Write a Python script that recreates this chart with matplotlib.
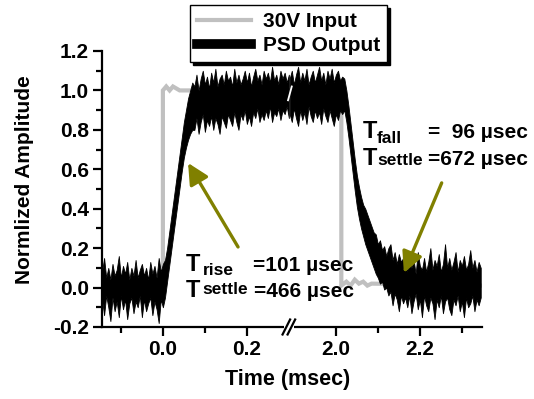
import numpy as np
import matplotlib
matplotlib.use("Agg")
import matplotlib.pyplot as plt
from matplotlib.lines import Line2D

plt.rcParams['font.family'] = ['Liberation Sans', 'DejaVu Sans']
plt.rcParams['font.weight'] = 'bold'

# ---------------- data ----------------
# left segment of the broken time axis (msec)
t_left = np.round(-0.145 + 0.005 * np.arange(90), 3)
out_left_upper = [
    0.08, 0.15, 0.05, 0.10, 0.04, 0.12, 0.06, 0.09, 0.16, 0.05, 0.11, 0.07, 0.13, 0.04, 0.10,
    0.06, 0.14, 0.05, 0.09, 0.12, 0.06, 0.10, 0.04, 0.13, 0.07, 0.11, 0.05, 0.15, 0.08,
    0.12, 0.14, 0.20, 0.28, 0.36, 0.44, 0.52, 0.60, 0.68, 0.76, 0.84, 0.90, 0.96, 1.00, 1.04,
    1.02, 1.08, 1.00, 1.06, 1.10, 1.03, 1.07, 1.01, 1.09, 1.04, 1.11, 1.02, 1.06, 1.08, 1.03,
    1.10, 1.05, 1.07, 1.02, 1.11, 1.04, 1.08, 1.03, 1.06, 1.10, 1.04, 1.09, 1.02, 1.07, 1.11,
    1.05, 1.08, 1.03, 1.10, 1.06, 1.09, 1.04, 1.12, 1.05, 1.08, 1.03, 1.10, 1.06, 1.09, 1.04,
    1.08]
out_left_lower = [
    -0.06, -0.14, -0.04, -0.10, -0.17, -0.05, -0.12, -0.07, -0.15, -0.04, -0.11, -0.06, -0.16,
    -0.08, -0.05, -0.13, -0.07, -0.10, -0.04, -0.15, -0.06, -0.12, -0.08, -0.05, -0.14, -0.07,
    -0.11, -0.18, -0.06,
    -0.10, -0.05, 0.03, 0.11, 0.19, 0.27, 0.35, 0.43, 0.51, 0.59, 0.66, 0.71, 0.75, 0.78, 0.80,
    0.80, 0.86, 0.78, 0.84, 0.88, 0.79, 0.85, 0.82, 0.87, 0.80, 0.86, 0.83, 0.78, 0.87, 0.84,
    0.81, 0.88, 0.85, 0.82, 0.89, 0.84, 0.80, 0.88, 0.85, 0.90, 0.83, 0.87, 0.82, 0.89, 0.86,
    0.91, 0.84, 0.88, 0.85, 0.90, 0.86, 0.92, 0.84, 0.89, 0.87, 0.91, 0.85, 0.90, 0.88, 0.92,
    0.86]

# right segment of the broken time axis (msec)
t_right = np.round(1.89 + 0.005 * np.arange(92), 3)
out_right_upper = [
    1.06, 1.10, 1.03, 1.08, 1.12, 1.04, 1.09, 1.05, 1.11, 1.03, 1.07, 1.10, 1.04, 1.08, 1.12,
    1.05, 1.09, 1.03, 1.10, 1.06, 1.11, 1.04, 1.08, 1.10, 1.05, 1.07,
    1.06, 1.00, 0.92, 0.83, 0.74, 0.65, 0.57, 0.51, 0.46, 0.42, 0.40, 0.37, 0.34, 0.31, 0.28,
    0.27, 0.22, 0.24, 0.19, 0.21, 0.16, 0.20, 0.22, 0.14, 0.18, 0.12, 0.17, 0.13, 0.15,
    0.12, 0.08, 0.16, 0.10, 0.14, 0.07, 0.18, 0.11, 0.09, 0.15, 0.08, 0.13, 0.20, 0.09, 0.14,
    0.11, 0.17, 0.08, 0.12, 0.22, 0.10, 0.15, 0.09, 0.13, 0.18, 0.08, 0.14, 0.11, 0.16, 0.09,
    0.12, 0.19, 0.10, 0.14, 0.08, 0.13, 0.10]
out_right_lower = [
    0.88, 0.84, 0.91, 0.86, 0.82, 0.90, 0.85, 0.89, 0.83, 0.92, 0.87, 0.84, 0.90, 0.86, 0.89,
    0.83, 0.91, 0.87, 0.84, 0.90, 0.86, 0.82, 0.88, 0.85, 0.90, 0.88,
    0.90, 0.84, 0.76, 0.67, 0.58, 0.49, 0.41, 0.35, 0.30, 0.26, 0.22, 0.19, 0.16, 0.13, 0.10,
    0.07, 0.05, 0.02, 0.03, -0.01, 0.00, -0.04, -0.02, -0.09, -0.03, -0.06, -0.12, -0.04, -0.08,
    -0.05, -0.10, -0.04, -0.13, -0.07, -0.03, -0.11, -0.06, -0.15, -0.04, -0.09, -0.12, -0.05,
    -0.08, -0.16, -0.06, -0.10, -0.04, -0.13, -0.07, -0.05, -0.11, -0.14, -0.06, -0.09, -0.04,
    -0.12, -0.07, -0.15, -0.05, -0.10, -0.08, -0.04, -0.12, -0.06, -0.09, -0.05]

# 30 V input step
in_left_t = [-0.145, 0.0, 0.0, 0.008, 0.016, 0.024, 0.032, 0.040, 0.3]
in_left_v = [0.0, 0.0, 1.00, 1.02, 1.00, 1.02, 1.01, 1.00, 1.00]
in_right_t = [1.89, 2.013, 2.013, 2.025, 2.035, 2.045, 2.055, 2.065, 2.075, 2.085, 2.345]
in_right_v = [1.00, 1.00, 0.01, 0.03, 0.01, 0.04, 0.02, 0.03, 0.01, 0.02, 0.01]

x_major_ticks = [0.0, 0.2, 2.0, 2.2]
x_minor_ticks = [-0.1, 0.1, 2.1, 2.3]
x_tick_labels = ['0.0', '0.2', '2.0', '2.2']

# ---------------- broken axis mapping ----------------
BREAK_LEFT = 0.3
BREAK_RIGHT = 1.888
def fx(t):
    t = np.asarray(t, dtype=float)
    return np.where(t > 1.0, t - (BREAK_RIGHT - BREAK_LEFT), t)

W, H = 534, 399
fig = plt.figure(figsize=(W / 100, H / 100), dpi=100)
ax = fig.add_axes([102 / W, 1 - 327 / H, 380 / W, 276 / H])

GRAY = '#c0c0c0'
ax.plot(fx(in_left_t), in_left_v, color=GRAY, lw=3, zorder=1, solid_joinstyle='miter')
ax.plot(fx(in_right_t), in_right_v, color=GRAY, lw=3, zorder=1, solid_joinstyle='miter')
ax.fill_between(fx(t_left), out_left_lower, out_left_upper, color='black', lw=0.6, zorder=2)
ax.fill_between(fx(t_right), out_right_lower, out_right_upper, color='black', lw=0.6, zorder=2)

# data break mark
ax.plot([0.307, 0.298], [1.02, 0.95], color='white', lw=1.3, zorder=3)

ax.set_xlim(-0.145, float(fx(2.348)))
ax.set_ylim(-0.2, 1.2)
ax.set_xticks(fx(x_major_ticks))
ax.set_xticklabels(x_tick_labels)
ax.set_xticks(fx(x_minor_ticks), minor=True)
ax.set_yticks(np.round(np.arange(-0.2, 1.21, 0.2), 1))
ax.set_yticklabels([f'{v:.1f}' for v in np.round(np.arange(-0.2, 1.21, 0.2), 1)])
ax.set_yticks(np.round(np.arange(-0.1, 1.2, 0.2), 1), minor=True)

for s in ['top', 'right']:
    ax.spines[s].set_visible(False)
for s in ['left', 'bottom']:
    ax.spines[s].set_linewidth(1.6)
ax.tick_params(which='major', direction='out', length=6.5, width=1.6, labelsize=15, pad=3)
ax.tick_params(which='minor', direction='out', length=4, width=1.6)
for lab in ax.get_xticklabels() + ax.get_yticklabels():
    lab.set_fontweight('bold')

# axis break on x axis
bx = BREAK_LEFT
ax.plot([bx - 0.012, bx + 0.012], [-0.2, -0.2], color='white', lw=3, transform=ax.transData,
        clip_on=False, zorder=5, solid_capstyle='butt')
for off in (-0.006, 0.006):
    ax.plot([bx + off - 0.009, bx + off + 0.009], [-0.238, -0.162], color='black', lw=1.6,
            clip_on=False, zorder=6)

fig.text(25 / W, 1 - 180 / H, 'Normlized Amplitude', rotation=90, ha='center', va='center',
         fontsize=15, fontweight='bold')
fig.text(288 / W, 1 - 380 / H, 'Time (msec)', ha='center', va='center',
         fontsize=15.5, fontweight='bold')

# legend
handles = [Line2D([], [], color=GRAY, lw=3), Line2D([], [], color='black', lw=7)]
leg = fig.legend(handles, ['30V Input', 'PSD Output'], loc='upper left',
                 bbox_to_anchor=(190 / W, 1 - 5 / H), bbox_transform=fig.transFigure,
                 prop={'size': 15, 'weight': 'bold'}, frameon=True, fancybox=False,
                 handlelength=2.6, handletextpad=0.55, labelspacing=0.22, borderpad=0.35,
                 borderaxespad=0.0, shadow={'color': 'black', 'alpha': 1.0})
leg.get_frame().set_edgecolor('black')
leg.get_frame().set_linewidth(1.0)

# annotations
def ftxt(px, py, s, size):
    fig.text(px / W, 1 - py / H, s, ha='left', va='baseline', fontsize=size, fontweight='bold')

ftxt(186, 271, 'T', 17)
ftxt(203, 275, 'rise', 12.5)
ftxt(253, 271, '=101 µsec', 15)
ftxt(186, 297, 'T', 17)
ftxt(202, 294, 'settle', 12.5)
ftxt(254, 297, '=466 µsec', 15)

ftxt(363, 138, 'T', 17)
ftxt(377, 143, 'fall', 12.5)
ftxt(428, 138, '=  96 µsec', 15)
ftxt(363, 165, 'T', 17)
ftxt(377, 165, 'settle', 12.5)
ftxt(428, 165, '=672 µsec', 15)

OLIVE = '#808000'
arrow = dict(arrowstyle='-|>,head_length=0.7,head_width=0.35', color=OLIVE, lw=2.4,
             mutation_scale=18, shrinkA=0, shrinkB=0)
ax.annotate('', xy=(0.06, 0.632), xytext=(0.179, 0.206), arrowprops=arrow, zorder=7)
ax.annotate('', xy=(float(fx(2.162)), 0.074), xytext=(float(fx(2.252)), 0.531),
            arrowprops=arrow, zorder=7)

fig.savefig('out.png', dpi=100)
